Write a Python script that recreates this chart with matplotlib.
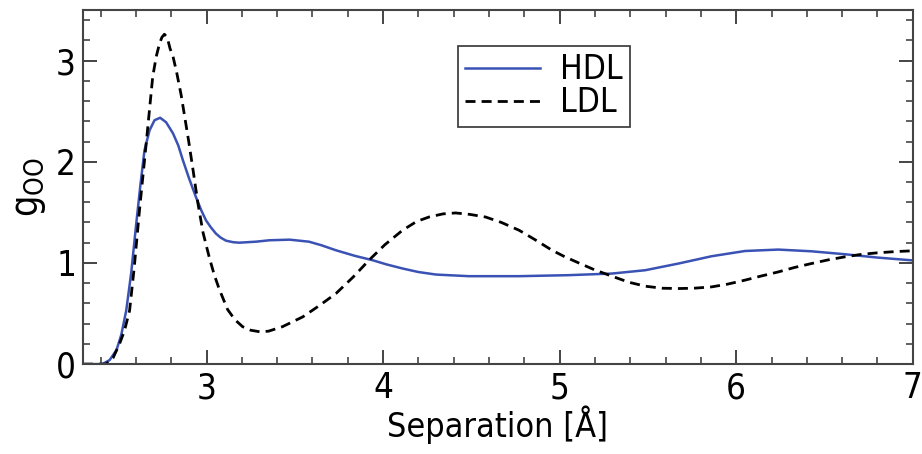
import matplotlib
matplotlib.use("Agg")
import matplotlib.pyplot as plt
from matplotlib.ticker import MultipleLocator

# values
hdl_x = [2.30, 2.41, 2.451, 2.49, 2.517, 2.545, 2.573, 2.60, 2.624, 2.648,
         2.677, 2.705, 2.737, 2.771, 2.81, 2.84, 2.865, 2.90, 2.94, 2.97,
         2.997, 3.025, 3.053, 3.08, 3.11, 3.15, 3.185, 3.28, 3.356, 3.47,
         3.58, 3.65, 3.733, 3.84, 3.94, 4.02, 4.11, 4.20, 4.30, 4.486,
         4.77, 5.05, 5.296, 5.485, 5.673, 5.86, 6.05, 6.238, 6.426, 6.615,
         6.80, 7.00]
hdl_y = [0.0, 0.0, 0.04, 0.14, 0.29, 0.53, 0.90, 1.36, 1.75, 2.11,
         2.31, 2.41, 2.435, 2.39, 2.28, 2.16, 2.02, 1.84, 1.65, 1.52,
         1.42, 1.35, 1.29, 1.25, 1.22, 1.205, 1.20, 1.21, 1.224, 1.23,
         1.21, 1.175, 1.125, 1.07, 1.027, 0.985, 0.945, 0.91, 0.885, 0.869,
         0.869, 0.879, 0.895, 0.928, 0.994, 1.066, 1.118, 1.132, 1.115, 1.086,
         1.053, 1.025]

ldl_x = [2.30, 2.43, 2.47, 2.507, 2.535, 2.564, 2.59, 2.62, 2.658, 2.695,
         2.715, 2.733, 2.747, 2.761, 2.777, 2.793, 2.81, 2.831, 2.856, 2.899,
         2.925, 2.95, 2.98, 3.016, 3.044, 3.072, 3.119, 3.16, 3.204, 3.25,
         3.30, 3.35, 3.43, 3.545, 3.64, 3.733, 3.83, 3.92, 4.01, 4.11,
         4.19, 4.26, 4.34, 4.41, 4.49, 4.58, 4.67, 4.77, 4.86, 4.957,
         5.03, 5.108, 5.20, 5.296, 5.39, 5.485, 5.58, 5.673, 5.76, 5.86,
         5.95, 6.05, 6.14, 6.238, 6.33, 6.426, 6.52, 6.615, 6.71, 6.80,
         6.90, 7.00]
ldl_y = [0.0, 0.0, 0.06, 0.20, 0.33, 0.53, 0.95, 1.52, 2.18, 2.84,
         3.04, 3.165, 3.23, 3.26, 3.23, 3.12, 3.04, 2.88, 2.66, 2.20,
         1.90, 1.60, 1.30, 1.05, 0.88, 0.74, 0.54, 0.44, 0.37, 0.335,
         0.32, 0.325, 0.37, 0.467, 0.58, 0.698, 0.86, 1.027, 1.18, 1.323,
         1.41, 1.454, 1.485, 1.494, 1.48, 1.454, 1.40, 1.323, 1.23, 1.125,
         1.06, 1.0, 0.93, 0.869, 0.81, 0.77, 0.75, 0.747, 0.75, 0.763,
         0.79, 0.83, 0.87, 0.911, 0.955, 0.994, 1.03, 1.06, 1.085, 1.10,
         1.112, 1.12]

series_labels = ["HDL", "LDL"]

plt.rcParams['font.family'] = ['DejaVu Sans']
plt.rcParams['font.stretch'] = 'condensed'
plt.rcParams['mathtext.fontset'] = 'custom'
plt.rcParams['mathtext.rm'] = 'DejaVu Sans'

fig = plt.figure(figsize=(9.22, 4.54), dpi=100)
ax = fig.add_axes([0.09, 0.198, 0.900, 0.780])

ax.plot(hdl_x, hdl_y, color='#3a52b4', lw=1.8, label=series_labels[0])
ax.plot(ldl_x, ldl_y, color='black', lw=2.0, ls=(0, (3.6, 2.2)), label=series_labels[1])

ax.set_xlim(2.3, 7)
ax.set_ylim(0, 3.5)
ax.xaxis.set_major_locator(MultipleLocator(1))
ax.xaxis.set_minor_locator(MultipleLocator(0.2))
ax.yaxis.set_major_locator(MultipleLocator(1))
ax.yaxis.set_minor_locator(MultipleLocator(0.2))

ax.tick_params(which='both', direction='in', top=True, right=True,
               color='#444444', labelsize=25, pad=5)
ax.tick_params(which='major', length=10, width=1.4)
ax.tick_params(which='minor', length=5, width=1.2)
for s in ax.spines.values():
    s.set_linewidth(1.5)
    s.set_color('#444444')

ax.set_xlabel('Separation [Å]', fontsize=24.5, labelpad=0)
ax.set_ylabel(r'g$_\mathregular{OO}$', fontsize=27, labelpad=6)

leg = ax.legend(loc='upper left', bbox_to_anchor=(0.452, 0.898), borderaxespad=0,
                fontsize=24, handlelength=2.25, handletextpad=0.6, borderpad=0.22,
                labelspacing=0.0, fancybox=False, framealpha=1,
                edgecolor='#333333')
leg.get_frame().set_linewidth(1.2)

fig.savefig('out.png', dpi=100)
